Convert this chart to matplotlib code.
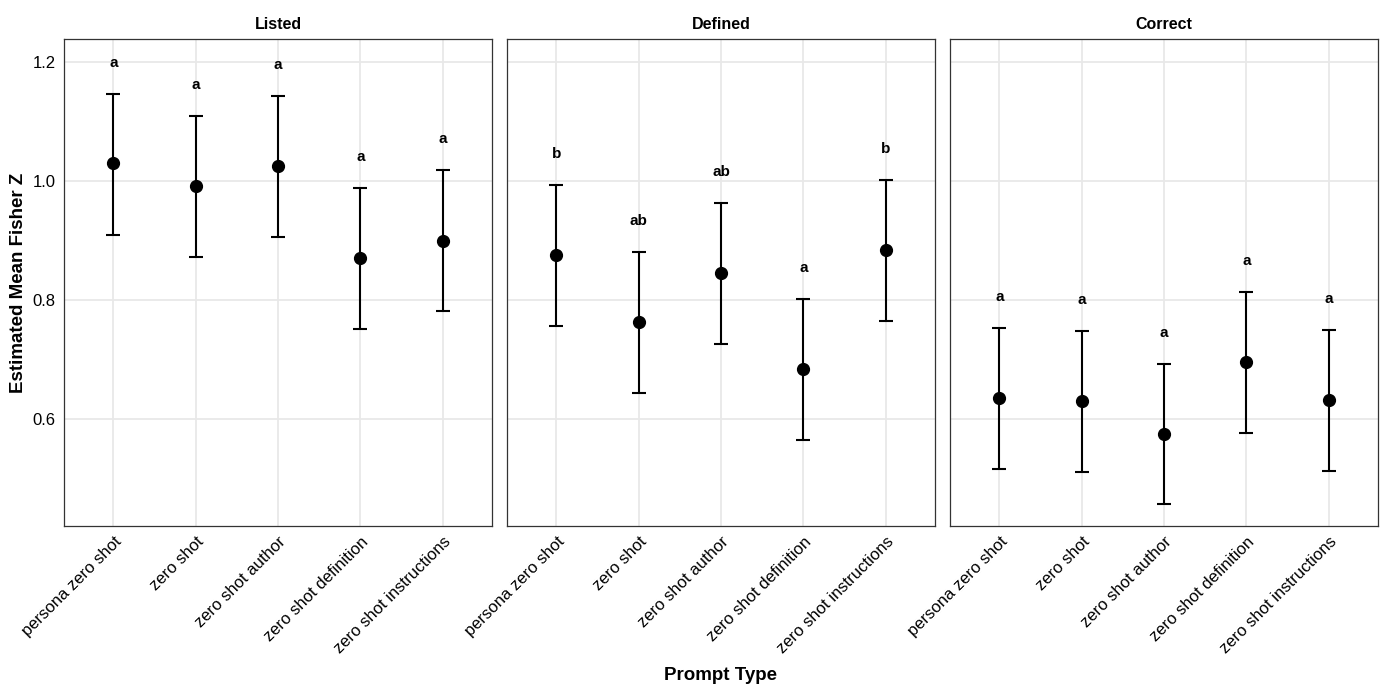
import matplotlib.pyplot as plt

plt.rcParams['font.family'] = ['Liberation Sans', 'DejaVu Sans']

panels = ['Listed', 'Defined', 'Correct']
prompts = ['persona zero shot', 'zero shot', 'zero shot author',
           'zero shot definition', 'zero shot instructions']

# estimated mean, lower and upper CI per panel
est = {
    'Listed':  [1.030, 0.992, 1.025, 0.871, 0.899],
    'Defined': [0.876, 0.763, 0.845, 0.684, 0.884],
    'Correct': [0.635, 0.630, 0.575, 0.696, 0.632],
}
lower = {
    'Listed':  [0.909, 0.872, 0.906, 0.751, 0.782],
    'Defined': [0.756, 0.644, 0.726, 0.565, 0.765],
    'Correct': [0.516, 0.511, 0.457, 0.576, 0.513],
}
upper = {
    'Listed':  [1.146, 1.109, 1.143, 0.989, 1.018],
    'Defined': [0.993, 0.881, 0.963, 0.802, 1.002],
    'Correct': [0.753, 0.748, 0.692, 0.813, 0.750],
}
letters = {
    'Listed':  ['a', 'a', 'a', 'a', 'a'],
    'Defined': ['b', 'ab', 'ab', 'a', 'b'],
    'Correct': ['a', 'a', 'a', 'a', 'a'],
}

fig = plt.figure(figsize=(13.89, 6.95), dpi=100)
lefts = [64, 507, 950]
W, H = 1389, 695
xs = list(range(len(prompts)))

for i, p in enumerate(panels):
    ax = fig.add_axes([lefts[i] / W, 1 - 526 / H, 428 / W, 487 / H])
    yerr = [[e - l for e, l in zip(est[p], lower[p])],
            [u - e for e, u in zip(est[p], upper[p])]]
    ax.errorbar(xs, est[p], yerr=yerr, fmt='o', color='black', ms=8.5,
                elinewidth=1.5, capsize=5, capthick=1.5, zorder=3)
    for x, u, t in zip(xs, upper[p], letters[p]):
        ax.text(x, u + 0.052, t, ha='center', va='center', fontsize=11,
                fontweight='bold')
    ax.set_xlim(-0.6, 4.6)
    ax.set_ylim(0.42, 1.239)
    ax.set_yticks([0.6, 0.8, 1.0, 1.2])
    ax.set_xticks(xs)
    ax.set_xticklabels(prompts, rotation=45, ha='right', rotation_mode='anchor',
                       fontsize=12)
    ax.grid(True, color='#e8e8e8', linewidth=1.3)
    ax.set_axisbelow(True)
    ax.tick_params(length=0, pad=6, labelsize=12, colors='black')
    for s in ax.spines.values():
        s.set_color('#333333')
        s.set_linewidth(0.9)
    if i == 0:
        ax.set_ylabel('Estimated Mean Fisher Z', fontsize=13.5, fontweight='bold')
    else:
        ax.set_yticklabels([])
    ax.set_title(p, fontsize=11.5, fontweight='bold', pad=7)

fig.text(721 / W, 1 - 676 / H, 'Prompt Type', ha='center', va='center',
         fontsize=13.5, fontweight='bold')

fig.savefig('out.png', dpi=100)
